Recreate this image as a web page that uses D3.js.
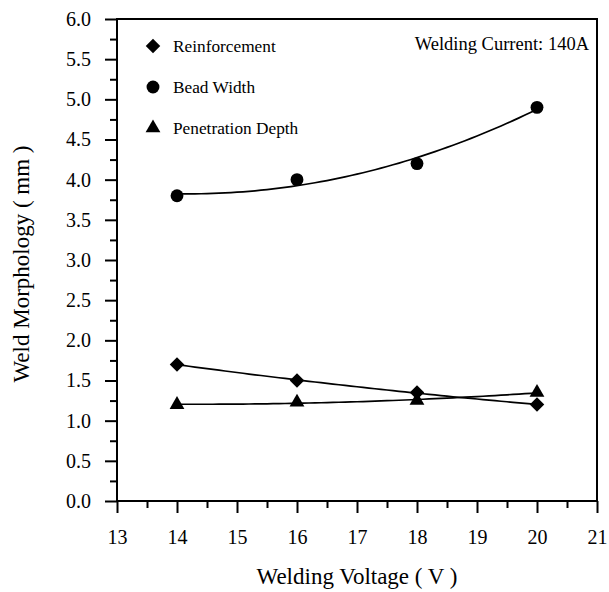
<!DOCTYPE html>
<html>
<head>
<meta charset="utf-8">
<script src="https://cdn.jsdelivr.net/npm/d3@7"></script>
<style>
  body { margin: 0; background: #fff; }
</style>
</head>
<body>
<svg id="chart" width="609" height="592" font-family="Liberation Serif"></svg>
<script>
// welding voltage (V)
const voltage = [14, 16, 18, 20];
const reinforcement = [1.7, 1.5, 1.35, 1.2];
const beadWidth = [3.8, 4.0, 4.2, 4.9];
const penetrationDepth = [1.2, 1.23, 1.25, 1.35];

const xTicks = [13, 14, 15, 16, 17, 18, 19, 20, 21];
const yTicks = [0, 0.5, 1, 1.5, 2, 2.5, 3, 3.5, 4, 4.5, 5, 5.5, 6];
const legendNames = ["Reinforcement", "Bead Width", "Penetration Depth"];

const FONT = "Liberation Serif";

var svg = d3.select("#chart");
var margin = { top: 19, right: 12, bottom: 91, left: 117 };
var width = 609 - margin.left - margin.right;
var height = 592 - margin.top - margin.bottom;

var g = svg.append("g")
  .attr("transform", "translate(" + margin.left + "," + margin.top + ")");

var x = d3.scaleLinear().domain([13, 21]).range([0, width]);
var y = d3.scaleLinear().domain([0, 6]).range([height, 0]);

// least squares quadratic fit, like the original plotting program did
function quadFit(xs, ys) {
  var n = xs.length, s = [0, 0, 0, 0, 0], t = [0, 0, 0];
  for (var i = 0; i < n; i++) {
    for (var k = 0; k < 5; k++) s[k] += Math.pow(xs[i], k);
    for (var k = 0; k < 3; k++) t[k] += ys[i] * Math.pow(xs[i], k);
  }
  var m = [[s[0], s[1], s[2], t[0]], [s[1], s[2], s[3], t[1]], [s[2], s[3], s[4], t[2]]];
  for (var c = 0; c < 3; c++) {
    for (var r = c + 1; r < 3; r++) {
      var f = m[r][c] / m[c][c];
      for (var k = c; k < 4; k++) m[r][k] -= f * m[c][k];
    }
  }
  var coef = [0, 0, 0];
  for (var r = 2; r >= 0; r--) {
    var v = m[r][3];
    for (var k = r + 1; k < 3; k++) v -= m[r][k] * coef[k];
    coef[r] = v / m[r][r];
  }
  return function (xv) { return coef[0] + coef[1] * xv + coef[2] * xv * xv; };
}

// axes
var xAxis = g.append("g")
  .attr("transform", "translate(0," + height + ")")
  .call(d3.axisBottom(x).tickValues(xTicks).tickSize(12).tickSizeOuter(0).tickPadding(17).tickFormat(d3.format("d")));
var xMinor = g.append("g")
  .attr("transform", "translate(0," + height + ")")
  .call(d3.axisBottom(x).tickValues(d3.range(13.5, 21, 1)).tickSize(7).tickSizeOuter(0).tickFormat(""));

var yAxis = g.append("g")
  .call(d3.axisLeft(y).tickValues(yTicks).tickSize(12).tickSizeOuter(0).tickPadding(14).tickFormat(d3.format(".1f")));
var yMinor = g.append("g")
  .call(d3.axisLeft(y).tickValues(d3.range(0.25, 6, 0.5)).tickSize(7).tickSizeOuter(0).tickFormat(""));

[xAxis, xMinor, yAxis, yMinor].forEach(function (a) {
  a.attr("font-family", FONT).attr("font-size", 20);
  a.selectAll("path").remove();
  a.selectAll("line").attr("stroke", "#000").attr("stroke-width", 2);
  a.selectAll("text").attr("fill", "#000");
});

// frame
g.append("rect")
  .attr("width", width).attr("height", height)
  .attr("fill", "none").attr("stroke", "#000").attr("stroke-width", 2);

// symbols
var diamond = {
  draw: function (ctx, size) {
    var r = Math.sqrt(size / 2);
    ctx.moveTo(0, -r); ctx.lineTo(r, 0); ctx.lineTo(0, r); ctx.lineTo(-r, 0); ctx.closePath();
  }
};
var diamondSym = d3.symbol().type(diamond).size(105);
var circleSym = d3.symbol().type(d3.symbolCircle).size(130);
var triangleSym = d3.symbol().type(d3.symbolTriangle).size(95);

var series = [
  { values: reinforcement, sym: diamondSym },
  { values: beadWidth, sym: circleSym },
  { values: penetrationDepth, sym: triangleSym },
];

var line = d3.line()
  .x(function (d) { return x(d[0]); })
  .y(function (d) { return y(d[1]); });

series.forEach(function (s) {
  var fit = quadFit(voltage, s.values);
  var pts = d3.range(voltage[0], voltage[voltage.length - 1] + 0.001, 0.1).map(function (v) {
    return [v, fit(v)];
  });
  g.append("path")
    .datum(pts)
    .attr("d", line)
    .attr("fill", "none")
    .attr("stroke", "#000")
    .attr("stroke-width", 1.7);

  g.selectAll(null)
    .data(voltage)
    .enter()
    .append("path")
    .attr("d", s.sym)
    .attr("fill", "#000")
    .attr("transform", function (d, i) {
      return "translate(" + x(d) + "," + y(s.values[i]) + ")";
    });
});

// legend
var legend = g.append("g").attr("transform", "translate(36,27)");
legendNames.forEach(function (name, i) {
  var row = legend.append("g").attr("transform", "translate(0," + i * 41 + ")");
  row.append("path").attr("d", series[i].sym).attr("fill", "#000");
  row.append("text")
    .attr("x", 20)
    .attr("y", 6)
    .attr("font-family", FONT)
    .attr("font-size", 17.3)
    .text(name);
});

g.append("text")
  .attr("x", width - 8)
  .attr("y", 31)
  .attr("text-anchor", "end")
  .attr("font-family", FONT)
  .attr("font-size", 18.5)
  .text("Welding Current: 140A");

// axis titles
svg.append("text")
  .attr("x", margin.left + width / 2)
  .attr("y", 584)
  .attr("text-anchor", "middle")
  .attr("font-family", FONT)
  .attr("font-size", 23)
  .text("Welding Voltage ( V )");

svg.append("text")
  .attr("transform", "translate(29,264) rotate(-90)")
  .attr("text-anchor", "middle")
  .attr("font-family", FONT)
  .attr("font-size", 23)
  .text("Weld Morphology ( mm )");
</script>
</body>
</html>
